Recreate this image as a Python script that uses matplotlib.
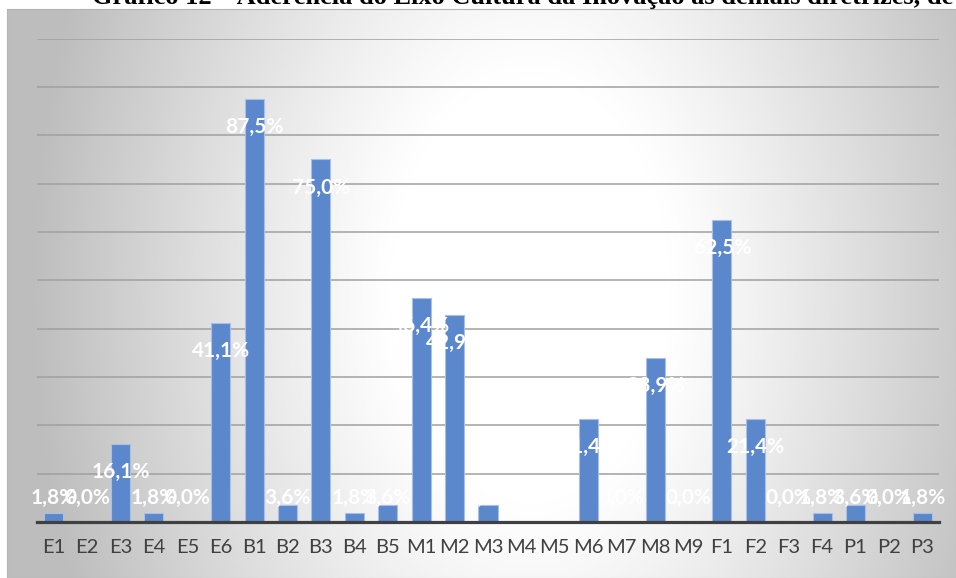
import numpy as np
import matplotlib
matplotlib.use('Agg')
import matplotlib.pyplot as plt
from matplotlib.patches import Rectangle

categories = ['E1', 'E2', 'E3', 'E4', 'E5', 'E6',
              'B1', 'B2', 'B3', 'B4', 'B5',
              'M1', 'M2', 'M3', 'M4', 'M5', 'M6', 'M7', 'M8', 'M9',
              'F1', 'F2', 'F3', 'F4',
              'P1', 'P2', 'P3']
values = [1.8, 0.0, 16.1, 1.8, 0.0, 41.1,
          87.5, 3.6, 75.0, 1.8, 3.6,
          46.4, 42.9, 3.6, 0.0, 0.0, 21.4, 0.0, 33.9, 0.0,
          62.5, 21.4, 0.0, 1.8,
          3.6, 0.0, 1.8]
title = 'Gráfico 12 – Aderência do Eixo Cultura da Inovação às demais diretrizes, de'

W, H = 956, 578
fig = plt.figure(figsize=(W / 100, H / 100), dpi=100)

# radial grey background of the chart area
bg = fig.add_axes([0, 0, 1, 1], zorder=-5)
yy, xx = np.mgrid[0:H, 0:W]
r = np.sqrt(((xx - 530) / 500.0) ** 2 + ((yy - 290) / 760.0) ** 2)
shade = 255 - 66 * np.clip((r - 0.28) / 0.72, 0, 1) ** 1.1
shade[(xx < 7) | (yy < 9)] = 255
img = np.dstack([shade, shade, shade]) / 255.0
bg.imshow(img, extent=[0, W, H, 0], aspect='auto', interpolation='bilinear')
bg.add_patch(Rectangle((7, 9), W - 7, H - 9, fill=False, edgecolor='#b4b4b4', lw=0.8))
bg.set_xlim(0, W)
bg.set_ylim(H, 0)
bg.axis('off')

fig.text(92 / W, 1 - 4 / H, title, fontsize=19, fontweight='bold',
         family='Liberation Serif', va='baseline', ha='left', color='black')

ax = fig.add_axes([37 / W, 56 / H, 902 / W, 483.4 / H])
ax.patch.set_alpha(0)
x = np.arange(len(categories))
ax.bar(x, values, width=0.57, color='#5b87cd', edgecolor='#a9bfe6', linewidth=0.8, zorder=3)

for xi, v in zip(x, values):
    label = f'{v:.1f}%'.replace('.', ',')
    ax.text(xi, max(v - 5.8, 4.9), label, ha='center', va='center', color='white',
            fontsize=15, fontweight='bold', family='Lato', zorder=5)

ax.set_xlim(-0.5, len(categories) - 0.5)
ax.set_ylim(0, 100)
ax.set_yticks(np.arange(10, 101, 10))
ax.yaxis.grid(True, color='#a0a0a0', linewidth=1.1, zorder=0)
ax.set_axisbelow(True)
ax.tick_params(axis='y', left=False, labelleft=False)
ax.set_xticks(x)
ax.set_xticklabels(categories, fontsize=14.5, family='Lato', color='#404040')
ax.tick_params(axis='x', length=0, pad=12)
for side in ['top', 'right', 'left']:
    ax.spines[side].set_visible(False)
ax.spines['bottom'].set_color('#404040')
ax.spines['bottom'].set_linewidth(2.3)
ax.spines['bottom'].set_zorder(4)

fig.savefig('out.png', dpi=100)
